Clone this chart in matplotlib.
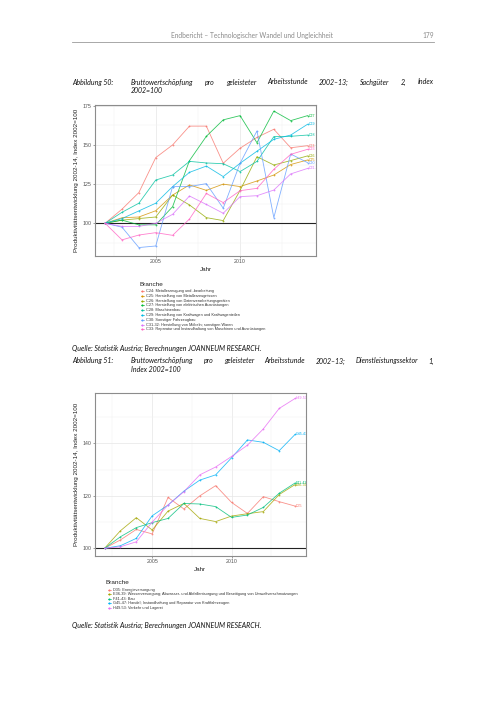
import matplotlib
matplotlib.use("Agg")
import matplotlib.pyplot as plt
from matplotlib.lines import Line2D

# ---- data ----------------------------------------------------------------
years = list(range(2002, 2015))

# Abbildung 50: Sachgueter 2
sach_codes = ["C24", "C25", "C26", "C27", "C28", "C29", "C30", "C31-32", "C33"]
sach_names = [
    "C24: Metallerzeugung und -bearbeitung",
    "C25: Herstellung von Metallerzeugnissen",
    "C26: Herstellung von Datenverarbeitungsgeräten",
    "C27: Herstellung von elektrischen Ausrüstungen",
    "C28: Maschinenbau",
    "C29: Herstellung von Kraftwagen und Kraftwagenteilen",
    "C30: Sonstiger Fahrzeugbau",
    "C31-32: Herstellung von Möbeln; sonstigen Waren",
    "C33: Reparatur und Instandhaltung von Maschinen und Ausrüstungen",
]
c24 = [100, 109, 119.6, 141.9, 150, 162, 162, 138.3, 147.9, 154.8, 160, 148.2, 149.5]
c25 = [100, 103.5, 104, 108, 118, 124.5, 121, 125, 123.4, 127, 130.8, 137.5, 140.4]
c26 = [100, 102, 103, 104, 118, 111.7, 103.6, 101.7, 121, 142.5, 137.2, 140, 143]
c27 = [100, 102, 99, 99, 110.6, 140, 155.5, 166, 168.7, 151.4, 171.6, 165.5, 168.7]
c28 = [100, 107, 112.8, 127.6, 130.8, 139.5, 138.5, 138, 133, 139.5, 155.3, 155.5, 156.3]
c29 = [100, 103, 107.9, 112.8, 123.4, 132.5, 136.5, 129.8, 138.3, 146, 153.6, 156.3, 163.2]
c30 = [100, 97.5, 84.5, 85.5, 123.4, 123.4, 125.3, 109.6, 138.3, 158.9, 103.6, 144.2, 138.7]
c31_32 = [100, 98, 98, 100, 105.7, 117.4, 112, 106.4, 117, 117.6, 121.2, 131.5, 135]
c33 = [100, 89.4, 92.5, 94, 92.3, 102.7, 119, 113.2, 120.8, 122.3, 134.4, 144, 147.2]
sach_values = [c24, c25, c26, c27, c28, c29, c30, c31_32, c33]
sach_colors = ["#F8766D", "#D39200", "#93AA00", "#00BA38", "#00C19F",
               "#00B9E3", "#619CFF", "#DB72FB", "#FF61C3"]

# Abbildung 51: Dienstleistungssektor 1
dl_codes = ["D35", "E36-39", "F41-43", "G45-47", "H49-53"]
dl_names = [
    "D35: Energieversorgung",
    "E36-39: Wasserversorgung; Abwasser- und Abfallentsorgung und Beseitigung von Umweltverschmutzungen",
    "F41-43: Bau",
    "G45-47: Handel; Instandhaltung und Reparatur von Kraftfahrzeugen",
    "H49-53: Verkehr und Lagerei",
]
d35 = [100, 103.2, 107.2, 105.5, 119.4, 115, 120, 123.9, 117.5, 113.3, 119.7, 117.8, 116.1]
e36_39 = [100, 106.7, 111.7, 107, 114.2, 117.1, 111.4, 110.2, 112.3, 113.2, 114, 120.5, 124.3]
f41_43 = [100, 104.4, 107.9, 109.8, 111.4, 117.1, 116.9, 115.9, 111.8, 112.7, 115.6, 121, 124.9]
g45_47 = [100, 101, 103.8, 112.4, 116.5, 121.8, 126, 128, 134.5, 141.3, 140.4, 137.2, 143.4]
h49_53 = [100, 100.6, 102.5, 110, 116.5, 121.6, 128, 131, 135, 139.3, 145.5, 153.3, 157.1]
dl_values = [d35, e36_39, f41_43, g45_47, h49_53]
dl_colors = ["#F8766D", "#A3A500", "#00BF7D", "#00B0F6", "#E76BF3"]

ylabel = "Produktivitätsentwicklung 2002-14, Index 2002=100"

# ---- page ----------------------------------------------------------------
W, H = 504, 712
fig = plt.figure(figsize=(W / 100, H / 100), dpi=100)
fig.patch.set_facecolor("white")
renderer = fig.canvas.get_renderer()

def fx(x):
    return x / W

def fy(y):
    return 1 - y / H

TXT = dict(family="Liberation Sans")
CAP = dict(family="Lato", style="italic", fontsize=5.0, color="#111111", va="baseline")

def justify(words, x0, x1, y, **kw):
    """Spread the words over x0..x1 like a justified line."""
    texts = [fig.text(0, fy(y), w, **kw) for w in words]
    widths = [t.get_window_extent(renderer).width for t in texts]
    gap = (x1 - x0 - sum(widths)) / (len(words) - 1)
    x = x0
    for t, w in zip(texts, widths):
        t.set_x(fx(x))
        x += w + gap

# header
fig.text(fx(252), fy(38), "Endbericht – Technologischer Wandel und Ungleichheit",
         ha="center", va="baseline", fontsize=4.75, color="#8a8a8a", family="Lato")
fig.text(fx(434), fy(38), "179", ha="right", va="baseline", fontsize=4.75, color="#8a8a8a",
         family="Lato")
fig.add_artist(Line2D([fx(72), fx(434)], [fy(41.5), fy(41.5)], color="#9a9a9a", lw=0.6))

# captions
fig.text(fx(72), fy(84.5), "Abbildung 50:", **CAP)
justify("Bruttowertschöpfung pro geleisteter Arbeitsstunde 2002–13; Sachgüter 2, Index".split(),
        131, 434, 84.5, **CAP)
fig.text(fx(131), fy(93), "2002=100", **CAP)

fig.text(fx(72), fy(363.5), "Abbildung 51:", **CAP)
justify("Bruttowertschöpfung pro geleisteter Arbeitsstunde 2002–13; Dienstleistungssektor 1,".split(),
        131, 434, 363.5, **CAP)
fig.text(fx(131), fy(372.5), "Index 2002=100", **CAP)

fig.text(fx(72), fy(350.5), "Quelle: Statistik Austria; Berechnungen JOANNEUM RESEARCH.", **CAP)
fig.text(fx(72), fy(627.5), "Quelle: Statistik Austria; Berechnungen JOANNEUM RESEARCH.", **CAP)


def panel(box, values, colors, codes, xlim, ylim, yticks, yminor):
    left, top, right, bottom = box
    ax = fig.add_axes([fx(left), fy(bottom), fx(right - left), (bottom - top) / H])
    ax.set_xlim(*xlim)
    ax.set_ylim(*ylim)
    ax.set_xticks([2005, 2010])
    ax.set_xticks([2002.5, 2007.5, 2012.5], minor=True)
    ax.set_yticks(yticks)
    ax.set_yticks(yminor, minor=True)
    ax.grid(which="major", color="#e6e6e6", lw=0.5)
    ax.grid(which="minor", color="#f2f2f2", lw=0.35)
    ax.set_axisbelow(True)
    ax.tick_params(which="major", length=1.5, width=0.4, color="#555555",
                   labelsize=3.8, labelcolor="#555555", pad=1.2)
    ax.tick_params(which="minor", length=0)
    for lab in ax.get_xticklabels() + ax.get_yticklabels():
        lab.set_family("Liberation Sans")
    for sp in ax.spines.values():
        sp.set_color("#8c8c8c")
        sp.set_linewidth(0.8)
    ax.axhline(100, color="#222222", lw=0.8, zorder=2)
    for vals, col, code in zip(values, colors, codes):
        ax.plot(years, vals, color=col, lw=0.6, alpha=0.8, marker="o", ms=1.3,
                mew=0, zorder=3)
        ax.text(years[-1] + 0.05, vals[-1], code, color=col, fontsize=2.6,
                ha="left", va="center", clip_on=True, **TXT)
    ax.set_ylabel(ylabel, fontsize=4.5, color="#222222", labelpad=2.5, **TXT)
    ax.set_xlabel("Jahr", fontsize=4.5, color="#222222", labelpad=1.5, **TXT)
    return ax


def legend(x, y, step, names, colors):
    fig.text(fx(x - 3), fy(y), "Branche", fontsize=4.6, color="#222222",
             va="center", ha="left", **TXT)
    for i, (name, col) in enumerate(zip(names, colors)):
        yy = y + 7 + i * step
        fig.add_artist(Line2D([fx(x - 1.5), fx(x + 1.5)], [fy(yy), fy(yy)],
                              color=col, lw=0.5, alpha=0.9))
        fig.add_artist(Line2D([fx(x)], [fy(yy)], color=col, marker="o", ms=1.5, mew=0))
        fig.text(fx(x + 4), fy(yy), name, fontsize=2.8, color="#333333",
                 va="center", ha="left", **TXT)


panel((95, 104.5, 316, 255.7), sach_values, sach_colors, sach_codes,
      (2001.4, 2014.5), (79.3, 175.8), [100, 125, 150, 175], [87.5, 112.5, 137.5, 162.5])
legend(142, 284, 4.8, sach_names, sach_colors)

panel((95, 392.7, 305.7, 555.7), dl_values, dl_colors, dl_codes,
      (2001.4, 2014.67), (97.2, 159.3), [100, 120, 140], [110, 130, 150])
legend(109, 582.5, 4.5, dl_names, dl_colors)

fig.savefig("out.png", dpi=100, facecolor="white")
